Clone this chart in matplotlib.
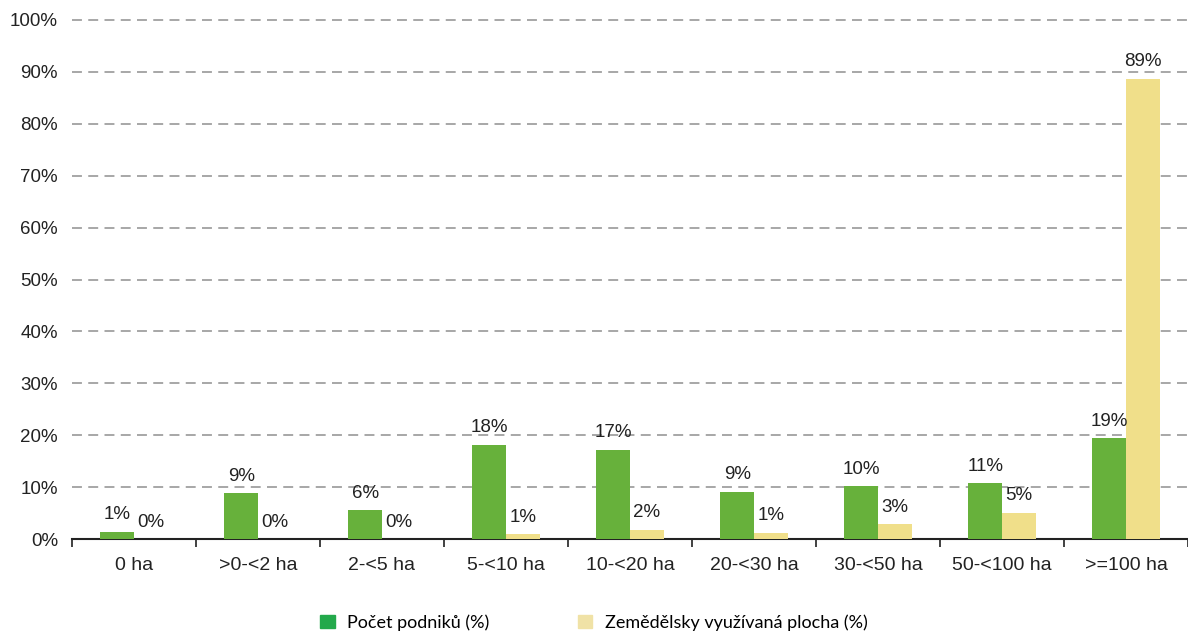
import matplotlib
matplotlib.use("Agg")
import matplotlib.pyplot as plt
import matplotlib.patches as mpatches
import numpy as np

categories = ["0 ha", ">0-<2 ha", "2-<5 ha", "5-<10 ha", "10-<20 ha",
              "20-<30 ha", "30-<50 ha", "50-<100 ha", ">=100 ha"]
podniky = [1.4, 8.8, 5.6, 18.2, 17.2, 9.1, 10.2, 10.8, 19.4]
plocha = [0.0, 0.0, 0.0, 0.9, 1.8, 1.2, 2.8, 5.1, 88.7]
yticks = list(range(0, 101, 10))

green = "#67b13b"
yellow = "#f0df8a"

plt.rcParams['font.family'] = ['Liberation Sans', 'DejaVu Sans']

fig = plt.figure(figsize=(11.88, 6.32), dpi=100)
ax = fig.add_axes([72 / 1188, 93 / 632, 1116 / 1188, 519 / 632])

x = np.arange(len(categories))
w = 0.272
b1 = ax.bar(x - w / 2, podniky, w, color=green, zorder=3)
b2 = ax.bar(x + w / 2, plocha, w, color=yellow, zorder=3)

# value labels above bars
for bars, vals in ((b1, podniky), (b2, plocha)):
    for r, v in zip(bars, vals):
        ax.annotate(f"{v:.0f}%", (r.get_x() + r.get_width() / 2, v),
                    xytext=(0, 6), textcoords="offset points",
                    ha="center", va="bottom", fontsize=13.5, color="#222222")

ax.set_xlim(-0.5, -0.5 + 1116 / 125)
ax.set_ylim(0, 100)
ax.set_yticks(yticks)
ax.set_yticklabels([f"{t}%" for t in yticks], fontsize=13.5, color="#222222")
ax.tick_params(axis="y", length=0, pad=10)

# category boundaries as ticks on the x axis
ax.set_xticks(np.arange(-0.5, len(categories), 1.0))
ax.set_xticklabels([])
ax.set_xticks(x, minor=True)
ax.set_xticklabels(categories, minor=True, fontsize=14, color="#222222")
ax.tick_params(axis="x", which="major", length=6, width=1.3, color="#333333", direction="out")
ax.tick_params(axis="x", which="minor", length=0, pad=13)

for t in yticks[1:]:
    ax.axhline(t, color="#a0a0a0", lw=1.3, ls=(0, (5.5, 3.5)), zorder=1, clip_on=False)

for s in ("top", "right", "left"):
    ax.spines[s].set_visible(False)
ax.spines["bottom"].set_linewidth(1.5)
ax.spines["bottom"].set_color("#222222")

handles = [mpatches.Patch(color="#23a94b", label="Počet podniků (%)"),
           mpatches.Patch(color="#f0e2a6", label="Zemědělsky využívaná plocha (%)")]
fig.legend(handles=handles, loc="center", bbox_to_anchor=(0.5, 0.015), ncol=2,
           frameon=False, prop={"family": "Lato", "size": 13}, handlelength=0.8,
           handleheight=0.8, columnspacing=4.9, handletextpad=0.7)

fig.savefig("out.png", dpi=100)
